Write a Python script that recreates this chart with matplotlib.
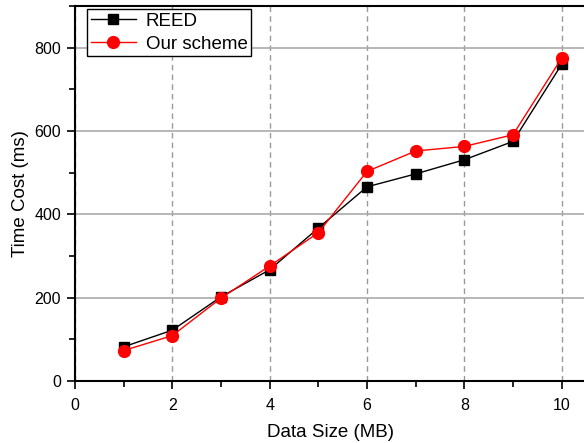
import matplotlib

matplotlib.use("Agg")
import matplotlib.pyplot as plt
from matplotlib.ticker import MultipleLocator

plt.rcParams["font.family"] = ["Liberation Sans", "DejaVu Sans"]

data_size = [1, 2, 3, 4, 5, 6, 7, 8, 9, 10]
reed = [82, 122, 202, 267, 367, 466, 497, 531, 575, 760]
ours = [73, 109, 199, 276, 356, 503, 552, 563, 591, 775]

fig = plt.figure(figsize=(5.84, 4.43), dpi=100)
ax = fig.add_axes([75 / 584, 62 / 443, 511 / 584, 375 / 443])

ax.plot(data_size, reed, color="black", lw=1, marker="s", ms=7, label="REED", zorder=3)
ax.plot(data_size, ours, color="red", lw=1, marker="o", ms=8.5, label="Our scheme", zorder=4)

ax.set_xlim(0, 10.5)
ax.set_ylim(0, 900)
ax.xaxis.set_major_locator(MultipleLocator(2))
ax.xaxis.set_minor_locator(MultipleLocator(1))
ax.yaxis.set_major_locator(MultipleLocator(200))
ax.yaxis.set_minor_locator(MultipleLocator(100))

ax.grid(axis="x", which="major", color="#999999", ls=(0, (4, 3)), lw=1)
ax.grid(axis="y", which="major", color="#aaaaaa", ls="-", lw=1.2)
ax.set_axisbelow(True)

ax.tick_params(which="both", direction="out", width=1.2, labelsize=11.5)
ax.tick_params(which="major", length=6, pad=4)
ax.tick_params(axis="x", which="major", pad=6)
ax.tick_params(which="minor", length=4)
for s in ax.spines.values():
    s.set_linewidth(1.5)

ax.set_xlabel("Data Size (MB)", fontsize=13.5, labelpad=8)
ax.set_ylabel("Time Cost (ms)", fontsize=13.5, labelpad=4)

leg = ax.legend(loc="upper left", bbox_to_anchor=(0.024, 0.992), borderaxespad=0,
                fontsize=13.5, fancybox=False, framealpha=1, edgecolor="black",
                handlelength=2.4, handletextpad=0.55, borderpad=0.18, labelspacing=0.32)
leg.get_frame().set_linewidth(1)

fig.savefig("out.png", dpi=100)
